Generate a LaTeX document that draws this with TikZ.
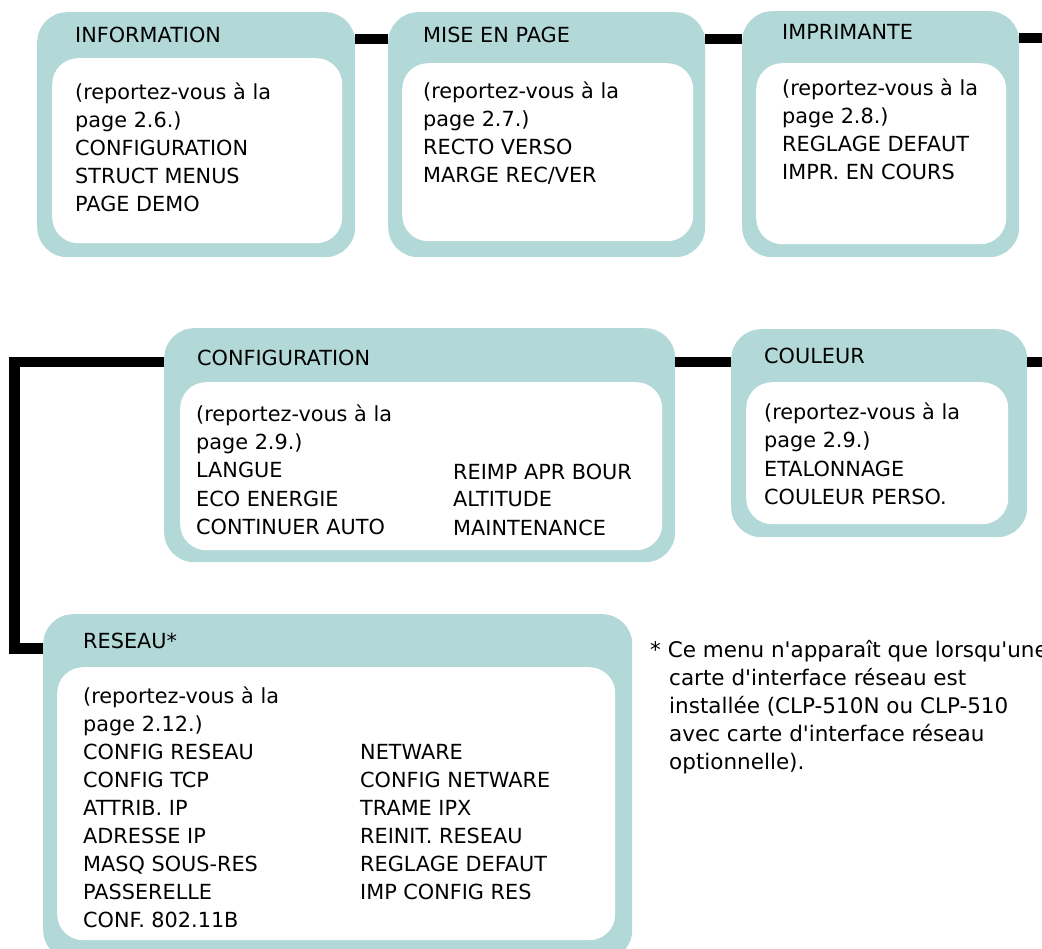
\documentclass[tikz,border=0pt]{standalone}
\usepackage{fontspec}
\setmainfont{DejaVu Sans}
\definecolor{teal0}{RGB}{178,217,216}
\newcommand\aq{\textquotesingle}
\begin{document}
\begin{tikzpicture}[x=1pt,y=-1pt,
  outerbox/.style={rectangle,draw=none,fill=teal0,rounded corners=30pt,inner sep=0pt,anchor=north west},
  innerbox/.style={rectangle,draw=none,fill=white,rounded corners=26pt,inner sep=0pt,anchor=north west},
  txt/.style={anchor=base west,inner sep=0pt,font=\fontsize{20.8}{28}\selectfont},
  notetxt/.style={anchor=base west,inner sep=0pt,font=\fontsize{21.5}{28}\selectfont},
  link/.style={line width=10.5pt,line join=miter}]
\useasboundingbox (0,0) rectangle (1042,949);
\clip (0,0) rectangle (1042,949);

% boxes
\node[outerbox,minimum width=318pt,minimum height=245pt] (info) at (37,12) {};
\node[innerbox,minimum width=290pt,minimum height=185pt] (infoin) at (52,58) {};
\node[outerbox,minimum width=317pt,minimum height=245pt] (mise) at (388,12) {};
\node[innerbox,minimum width=291pt,minimum height=178pt] (misein) at (402,63) {};
\node[outerbox,minimum width=277pt,minimum height=246pt] (impr) at (742,11) {};
\node[innerbox,minimum width=250pt,minimum height=181pt] (imprin) at (756,63) {};
\node[outerbox,minimum width=511pt,minimum height=234pt] (config) at (164,328) {};
\node[innerbox,minimum width=482pt,minimum height=168pt] (configin) at (180,382) {};
\node[outerbox,minimum width=296pt,minimum height=208pt] (couleur) at (731,329) {};
\node[innerbox,minimum width=262pt,minimum height=142pt] (couleurin) at (746,382) {};
\node[outerbox,minimum width=589pt,minimum height=346pt] (reseau) at (43,614) {};
\node[innerbox,minimum width=558pt,minimum height=273pt] (reseauin) at (57,667) {};

% connectors
\coordinate (r1) at (0,39);
\coordinate (topend) at (1050,38);
\coordinate (r2) at (0,362);
\coordinate (midend) at (1050,362);
\coordinate (lc1) at (14.5,362);
\coordinate (lc2) at (14.5,648.5);
\draw[link] (info.east |- r1) -- (mise.west |- r1);
\draw[link] (mise.east |- r1) -- (impr.west |- r1);
\draw[link] (impr.east |- topend) -- (topend);
\draw[link] (config.east |- r2) -- (couleur.west |- r2);
\draw[link] (couleur.east |- midend) -- (midend);
\draw[link] (config.west |- lc1) -- (lc1) -- (lc2) -- (reseau.west |- lc2);

% titles
\node[txt] (infot) at (75,43) {INFORMATION};
\node[txt] (miset) at (423,43) {MISE EN PAGE};
\node[txt] (imprt) at (782,40) {IMPRIMANTE};
\node[txt] (configt) at (197,366) {CONFIGURATION};
\node[txt] (couleurt) at (764,364) {COULEUR};
\node[txt] (reseaut) at (83,648) {RESEAU*};

% bodies
\foreach \t [count=\i from 0] in {{(reportez-vous à la},{page 2.6.)},{CONFIGURATION},{STRUCT MENUS},{PAGE DEMO}}
  \node[txt] (infol\i) at (75,100+27.8*\i) {\t};
\foreach \t [count=\i from 0] in {{(reportez-vous à la},{page 2.7.)},{RECTO VERSO},{MARGE REC/VER}}
  \node[txt] (misel\i) at (423,99+27.8*\i) {\t};
\foreach \t [count=\i from 0] in {{(reportez-vous à la},{page 2.8.)},{REGLAGE DEFAUT},{IMPR. EN COURS}}
  \node[txt] (imprl\i) at (782,96+27.8*\i) {\t};
\foreach \t [count=\i from 0] in {{(reportez-vous à la},{page 2.9.)},{LANGUE},{ECO ENERGIE},{CONTINUER AUTO}}
  \node[txt] (configl\i) at (196,422+28*\i) {\t};
\foreach \t [count=\i from 0] in {{REIMP APR BOUR},{ALTITUDE},{MAINTENANCE}}
  \node[txt] (configr\i) at (453,479+28*\i) {\t};
\foreach \t [count=\i from 0] in {{(reportez-vous à la},{page 2.9.)},{ETALONNAGE},{COULEUR PERSO.}}
  \node[txt] (couleurl\i) at (764,420+28*\i) {\t};
\foreach \t [count=\i from 0] in {{(reportez-vous à la},{page 2.12.)},{CONFIG RESEAU},{CONFIG TCP},{ATTRIB. IP},{ADRESSE IP},{MASQ SOUS-RES},{PASSERELLE},{CONF. 802.11B}}
  \node[txt] (reseaul\i) at (83,703+28*\i) {\t};
\foreach \t [count=\i from 0] in {{NETWARE},{CONFIG NETWARE},{TRAME IPX},{REINIT. RESEAU},{REGLAGE DEFAUT},{IMP CONFIG RES}}
  \node[txt] (reseaur\i) at (360,759+28*\i) {\t};

% note
\node[notetxt] (note0) at (650,657) {*\ Ce menu n\aq apparaît que lorsqu\aq une};
\node[notetxt] (note1) at (669,685) {carte d\aq interface réseau est};
\node[notetxt] (note2) at (669,713) {installée (CLP-510N ou CLP-510};
\node[notetxt] (note3) at (669,741) {avec carte d\aq interface réseau};
\node[notetxt] (note4) at (669,769) {optionnelle).};
\end{tikzpicture}
\end{document}
